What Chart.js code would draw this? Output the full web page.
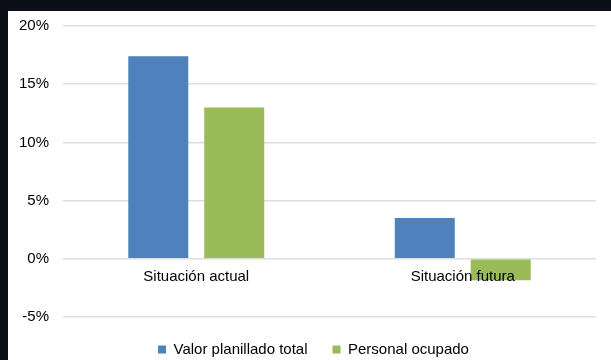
<!DOCTYPE html>
<html>
<head>
<meta charset="utf-8">
<script src="https://cdn.jsdelivr.net/npm/chart.js@4/dist/chart.umd.min.js"></script>
<style>
  html, body { margin: 0; padding: 0; background: #0b0f18; }
  #wrap { position: absolute; left: 8px; top: 11px; width: 603px; height: 349px; background: #fff; overflow: hidden; }
  #chart { position: absolute; left: 0; top: -8px; }
</style>
</head>
<body>
<div id="wrap"><canvas id="chart" width="603" height="357"></canvas></div>
<script>
var categories = ["Situación actual", "Situación futura"];
var valorPlanillado = [17.4, 3.5];
var personalOcupado = [13.0, -1.85];
var yTicks = [-5, 0, 5, 10, 15, 20];

var gridColor = '#dedede';
var font = { family: 'Liberation Sans, Arial, sans-serif', size: 15 };

var ctx = document.getElementById("chart");
var barChart = new Chart(ctx, {
  type: 'bar',
  data: {
    labels: categories,
    datasets: [{
      label: 'Valor planillado total',
      backgroundColor: '#4f81bd',
      data: valorPlanillado
    }, {
      label: 'Personal ocupado',
      backgroundColor: '#9bbb59',
      data: personalOcupado
    }]
  },
  options: {
    responsive: false,
    animation: false,
    layout: { padding: { top: 6, right: 0, left: 8, bottom: -7 } },
    categoryPercentage: 0.57,
    barPercentage: 0.79,
    plugins: {
      tooltip: { enabled: false },
      legend: {
        position: 'bottom',
        labels: {
          boxWidth: 8,
          boxHeight: 8,
          padding: 25,
          color: '#000',
          font: font
        }
      }
    },
    scales: {
      x: {
        // labels sit under the zero line (drawn over the bars), axis takes no room
        position: { y: 0 },
        afterFit: function (scale) { scale.height = 0; },
        grid: { display: false },
        border: { display: false },
        ticks: { color: '#000', font: font, padding: 1, z: 1 }
      },
      y: {
        min: yTicks[0],
        max: yTicks[yTicks.length - 1],
        afterFit: function (scale) { scale.width = 47; },
        afterBuildTicks: function (scale) {
          scale.ticks = yTicks.map(function (v) { return { value: v }; });
        },
        grid: { color: gridColor, lineWidth: 1.5, drawTicks: false },
        border: { display: false },
        ticks: {
          color: '#000',
          font: font,
          padding: 14,
          callback: function (v) { return v + '%'; }
        }
      },
      // empty right margin
      yRight: {
        type: 'linear',
        position: 'right',
        afterFit: function (scale) { scale.width = 15; },
        grid: { display: false },
        border: { display: false },
        ticks: { display: false }
      }
    }
  }
});
</script>
</body>
</html>
